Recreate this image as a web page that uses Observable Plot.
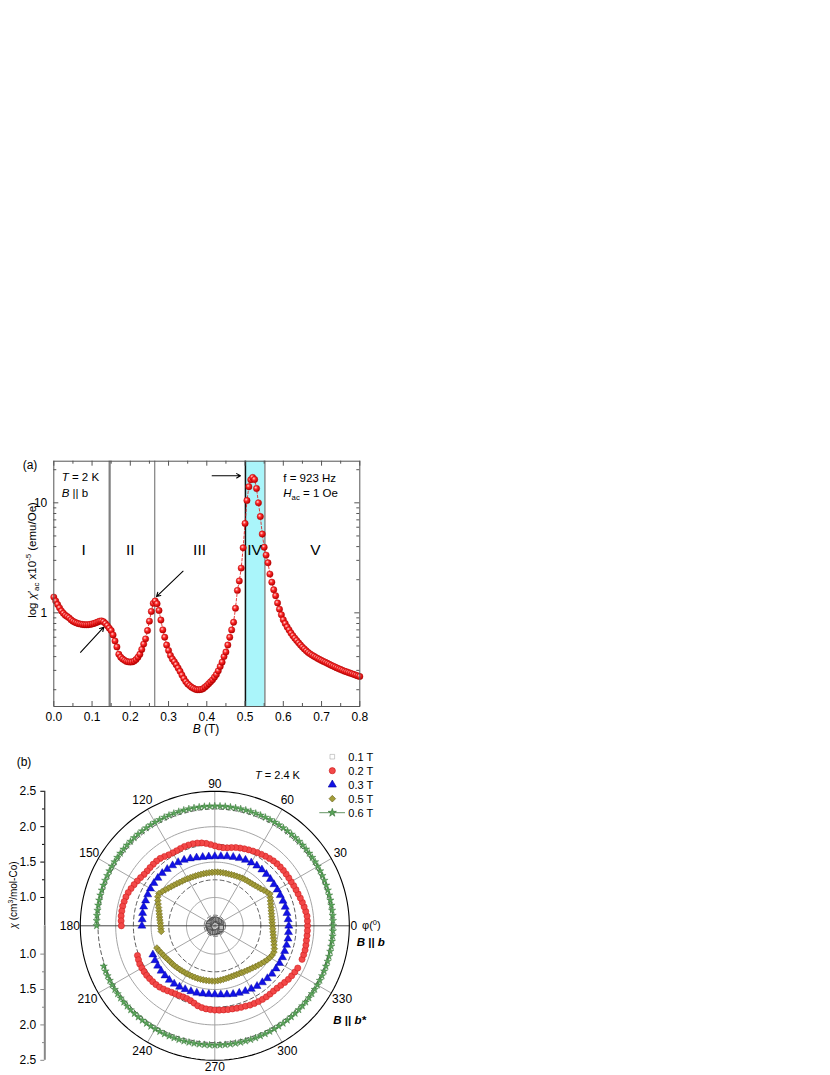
<!DOCTYPE html>
<html><head><meta charset="utf-8">
<script src="https://cdn.jsdelivr.net/npm/d3@7"></script>
<script src="https://cdn.jsdelivr.net/npm/@observablehq/plot@0.6"></script>
<style>
body{margin:0;background:#fff;font-family:"Liberation Sans",Arial,sans-serif;}
#wrap{position:relative;width:830px;height:1075px;overflow:hidden;}
</style></head><body><div id="wrap"></div>
<script>
// ---------------- Panel (a) data: [B (T), chi'_ac x1e-5 (emu/Oe)] ----------------
const chiAC = [
[0.000,1.39],[0.005,1.28],[0.010,1.19],[0.015,1.11],[0.020,1.04],[0.025,0.99],[0.030,0.95],[0.035,0.925],[0.040,0.90],[0.045,0.865],
[0.050,0.84],[0.055,0.822],[0.060,0.808],[0.065,0.797],[0.070,0.79],[0.075,0.784],[0.080,0.78],[0.085,0.779],[0.090,0.78],[0.095,0.785],
[0.100,0.792],[0.105,0.80],[0.110,0.812],[0.115,0.825],[0.120,0.84],[0.125,0.845],[0.130,0.83],[0.135,0.80],[0.140,0.765],[0.145,0.725],
[0.150,0.69],[0.155,0.63],[0.160,0.555],[0.165,0.49],[0.170,0.42],[0.175,0.395],[0.180,0.38],[0.185,0.37],[0.190,0.362],[0.195,0.358],
[0.200,0.357],[0.205,0.358],[0.210,0.364],[0.215,0.376],[0.220,0.395],[0.225,0.42],[0.230,0.465],[0.235,0.52],[0.240,0.58],[0.245,0.69],
[0.250,0.84],[0.255,1.03],[0.260,1.22],[0.265,1.28],[0.270,1.21],[0.275,1.05],[0.280,0.86],[0.285,0.70],[0.290,0.60],[0.295,0.51],
[0.300,0.455],[0.305,0.41],[0.310,0.38],[0.315,0.36],[0.320,0.338],[0.325,0.315],[0.330,0.294],[0.335,0.272],[0.340,0.253],[0.345,0.237],
[0.350,0.226],[0.355,0.218],[0.360,0.211],[0.365,0.206],[0.370,0.202],[0.375,0.200],[0.380,0.200],[0.385,0.201],[0.390,0.204],[0.395,0.211],
[0.400,0.218],[0.405,0.227],[0.410,0.236],[0.415,0.246],[0.420,0.26],[0.425,0.275],[0.430,0.297],[0.435,0.325],[0.440,0.356],[0.445,0.40],
[0.450,0.44],[0.455,0.51],[0.460,0.60],[0.465,0.70],[0.470,0.82],[0.475,1.10],[0.480,1.60],[0.485,1.95],[0.490,2.55],[0.495,3.9],
[0.500,6.5],[0.505,10.5],[0.510,14.0],[0.515,16.2],[0.520,17.0],[0.525,16.3],[0.530,13.5],[0.535,10.0],[0.540,7.5],[0.545,5.2],
[0.550,3.95],[0.555,3.35],[0.560,2.85],[0.565,2.25],[0.570,1.9],[0.575,1.62],[0.580,1.43],[0.585,1.23],[0.590,1.08],[0.595,0.96],
[0.600,0.865],[0.605,0.80],[0.610,0.745],[0.615,0.70],[0.620,0.655],[0.625,0.62],[0.630,0.588],[0.635,0.56],[0.640,0.534],[0.645,0.51],
[0.650,0.488],[0.655,0.47],[0.660,0.452],[0.665,0.437],[0.670,0.424],[0.675,0.413],[0.680,0.403],[0.685,0.394],[0.690,0.385],[0.695,0.377],
[0.700,0.369],[0.705,0.362],[0.710,0.355],[0.715,0.348],[0.720,0.341],[0.725,0.334],[0.730,0.328],[0.735,0.322],[0.740,0.316],[0.745,0.31],
[0.750,0.305],[0.755,0.30],[0.760,0.295],[0.765,0.291],[0.770,0.287],[0.775,0.283],[0.780,0.279],[0.785,0.275],[0.790,0.271],[0.795,0.267],
[0.800,0.264]
];
const xMajorTicks = [0,0.1,0.2,0.3,0.4,0.5,0.6,0.7,0.8];
const xMinorTicks = [0.05,0.15,0.25,0.35,0.45,0.55,0.65,0.75];
const yMajorTicks = [1,10];
const yMinorTicks = [0.2,0.3,0.4,0.5,0.6,0.7,0.8,0.9,2,3,4,5,6,7,8,9,20];
const phaseBoundaries = [0.146, 0.264];
const bandIV = [[0.501, 0.552]];
const phaseLabels = [["I",0.078],["II",0.2],["III",0.381],["IV",0.525],["V",0.684]];

// ---------------- Panel (b) data: [phi (deg), chi (cm3/mol-Co)] ----------------
const chi01T = [[0,0.69],[15,0.70],[30,0.695],[45,0.69],[60,0.685],[75,0.69],[90,0.695],[105,0.69],[120,0.685],[135,0.68],[150,0.685],[165,0.69],
[180,0.695],[195,0.69],[210,0.685],[225,0.69],[240,0.695],[255,0.70],[270,0.695],[285,0.69],[300,0.69],[315,0.695],[330,0.70],[345,0.695]];
const chi02T = [
[0,1.91],[3,1.91],[6,1.91],[9,1.90],[12,1.89],[15,1.88],[18,1.87],[21,1.86],[24,1.855],[27,1.85],[30,1.845],[33,1.845],[36,1.845],[39,1.845],
[42,1.843],[45,1.84],[48,1.835],[51,1.825],[54,1.815],[57,1.805],[60,1.795],[63,1.785],[66,1.775],[69,1.765],[72,1.755],[75,1.745],[78,1.73],
[81,1.715],[84,1.71],[87,1.715],[90,1.73],[93,1.75],[96,1.77],[99,1.785],[102,1.795],[105,1.80],[108,1.80],[111,1.80],[114,1.795],[117,1.79],
[120,1.79],[123,1.795],[126,1.81],[129,1.825],[132,1.83],[135,1.83],[138,1.83],[141,1.83],[144,1.835],[147,1.85],[150,1.865],[153,1.88],
[156,1.895],[159,1.91],[162,1.92],[165,1.925],[168,1.93],[171,1.93],[174,1.93],[177,1.925],[180,1.92],
[201,1.77],[204,1.78],[207,1.79],[210,1.79],[213,1.79],[216,1.79],[219,1.785],[222,1.78],[225,1.775],[228,1.765],[231,1.75],[234,1.735],
[237,1.72],[240,1.71],[243,1.705],[246,1.70],[249,1.70],[252,1.71],[255,1.73],[258,1.755],[261,1.77],[264,1.78],[267,1.785],[270,1.79],
[273,1.793],[276,1.795],[279,1.798],[282,1.80],[285,1.805],[288,1.81],[291,1.815],[294,1.825],[297,1.83],[300,1.835],[303,1.838],[306,1.84],
[309,1.84],[312,1.84],[315,1.845],[318,1.855],[321,1.87],[324,1.885],[327,1.895],[330,1.905],[333,1.915],
[339,1.92],[342,1.92],[345,1.92],[348,1.915],[351,1.91],[354,1.91],[357,1.91]];
const chi03T = [
[0,1.645],[5,1.64],[10,1.635],[15,1.63],[20,1.625],[25,1.62],[30,1.62],[35,1.62],[40,1.625],[45,1.63],[50,1.635],[55,1.635],[60,1.63],
[65,1.625],[70,1.615],[75,1.605],[80,1.595],[85,1.585],[90,1.58],[95,1.58],[100,1.585],[105,1.595],[110,1.61],[115,1.625],[120,1.635],
[125,1.64],[130,1.645],[135,1.65],[140,1.65],[145,1.65],[150,1.65],[155,1.645],[160,1.64],[165,1.64],[170,1.635],[175,1.63],[180,1.63],
[205,1.565],[210,1.575],[215,1.585],[220,1.59],[225,1.595],[230,1.60],[235,1.60],[240,1.595],[245,1.59],[250,1.585],[255,1.58],[260,1.575],
[265,1.57],[270,1.57],[275,1.575],[280,1.585],[285,1.60],[290,1.61],[295,1.62],[300,1.63],[305,1.64],[310,1.645],[315,1.65],[320,1.655],
[325,1.655],[330,1.655],[335,1.655],[340,1.65],[345,1.65],[350,1.65],[355,1.645]];
const chi05T = [
[0,1.415],[3,1.412],[6,1.412],[9,1.414],[12,1.419],[15,1.425],[18,1.435],[21,1.446],[24,1.460],[27,1.477],[30,1.498],[33,1.476],[36,1.455],
[39,1.433],[42,1.419],[45,1.405],[48,1.395],[51,1.388],[54,1.384],[57,1.380],[60,1.377],[63,1.371],[66,1.366],[69,1.363],[72,1.360],[75,1.358],
[78,1.358],[81,1.358],[84,1.358],[87,1.360],[90,1.358],[93,1.356],[96,1.354],[99,1.353],[102,1.353],[105,1.353],[108,1.354],[111,1.356],
[114,1.358],[117,1.363],[120,1.368],[123,1.375],[126,1.381],[129,1.390],[132,1.401],[135,1.414],[138,1.428],[141,1.445],[144,1.464],
[147,1.487],[150,1.511],[153,1.504],[156,1.481],[159,1.457],[162,1.435],[165,1.416],[168,1.402],[171,1.390],[174,1.380],[177,1.371],
[180,1.366],[183,1.363],[186,1.361],
[201,1.476],[204,1.462],[207,1.447],[210,1.436],[213,1.426],[216,1.416],[219,1.409],[222,1.405],[225,1.401],[228,1.395],[231,1.391],
[234,1.388],[237,1.385],[240,1.382],[243,1.381],[246,1.381],[249,1.381],[252,1.381],[255,1.381],[258,1.381],[261,1.381],[264,1.381],
[267,1.381],[270,1.381],[273,1.377],[276,1.371],[279,1.366],[282,1.361],[285,1.357],[288,1.354],[291,1.353],[294,1.354],[297,1.357],
[300,1.363],[303,1.370],[306,1.378],[309,1.388],[312,1.399],[315,1.414],[318,1.429],[321,1.446],[324,1.464],[327,1.483],[330,1.498],
[333,1.510],[336,1.514],[339,1.501],[342,1.480],[345,1.463],[348,1.447],[351,1.436],[354,1.426],[357,1.419]];
const chi06T = [
[0,2.270],[2.5,2.270],[5,2.271],[7.5,2.271],[10,2.272],[12.5,2.272],[15,2.273],[17.5,2.274],[20,2.275],[22.5,2.276],[25,2.277],[27.5,2.278],
[30,2.279],[32.5,2.280],[35,2.281],[37.5,2.282],[40,2.283],[42.5,2.284],[45,2.285],[47.5,2.286],[50,2.287],[52.5,2.287],[55,2.288],[57.5,2.288],
[60,2.289],[62.5,2.289],[65,2.290],[67.5,2.290],[70,2.290],[72.5,2.291],[75,2.291],[77.5,2.291],[80,2.291],[82.5,2.291],[85,2.291],[87.5,2.291],
[90,2.291],[92.5,2.291],[95,2.291],[97.5,2.291],[100,2.291],[102.5,2.291],[105,2.291],[107.5,2.291],[110,2.290],[112.5,2.290],[115,2.290],
[117.5,2.289],[120,2.289],[122.5,2.288],[125,2.288],[127.5,2.287],[130,2.287],[132.5,2.286],[135,2.285],[137.5,2.284],[140,2.283],[142.5,2.282],
[145,2.281],[147.5,2.280],[150,2.279],[152.5,2.278],[155,2.277],[157.5,2.276],[160,2.275],[162.5,2.274],[165,2.273],[167.5,2.272],[170,2.272],
[172.5,2.271],[175,2.271],[177.5,2.270],[180,2.270],
[200,2.270],[202.5,2.271],[205,2.272],[207.5,2.273],[210,2.274],[212.5,2.275],[215,2.276],[217.5,2.277],[220,2.278],[222.5,2.279],[225,2.280],
[227.5,2.281],[230,2.282],[232.5,2.282],[235,2.283],[237.5,2.283],[240,2.284],[242.5,2.284],[245,2.285],[247.5,2.285],[250,2.285],[252.5,2.286],
[255,2.286],[257.5,2.286],[260,2.286],[262.5,2.286],[265,2.286],[267.5,2.286],[270,2.286],[272.5,2.286],[275,2.286],[277.5,2.286],[280,2.286],
[282.5,2.286],[285,2.285],[287.5,2.285],[290,2.285],[292.5,2.284],[295,2.284],[297.5,2.283],[300,2.283],[302.5,2.282],[305,2.282],[307.5,2.281],
[310,2.280],[312.5,2.279],[315,2.278],[317.5,2.277],[320,2.276],[322.5,2.275],[325,2.274],[327.5,2.274],[330,2.273],[332.5,2.273],[335,2.272],
[337.5,2.272],[340,2.271],[342.5,2.271],[345,2.271],[347.5,2.270],[350,2.270],[352.5,2.270],[355,2.270],[357.5,2.270]];
const angleTicks = [0,30,60,90,120,150,180,210,240,270,300,330];
const radialMajor = [1.0,1.5,2.0,2.5];
const radialMinor = [1.25,1.75,2.25];
const gridSolid = [1.0,1.5,2.0];
const gridDashed = [0.75,1.25,1.75,2.25];
const radialOrigin = 0.6, radialMax = 2.5;
const legendItems = ["0.1 T","0.2 T","0.3 T","0.5 T","0.6 T"];

// ---------------- helpers ----------------
const FONT = "Liberation Sans, Arial, sans-serif";
function richText(sel, x, y, parts, {size=12, anchor="start", rotate=0, weight="normal"}={}) {
  const t = sel.append("text")
    .attr("transform", `translate(${x},${y}) rotate(${rotate})`)
    .attr("text-anchor", anchor).attr("font-size", size).attr("font-weight", weight)
    .attr("font-family", FONT).attr("fill", "#000");
  let shift = 0;
  for (const p of parts) {
    const s = p.sub ? size*0.28 : p.sup ? -size*0.38 : 0;
    const ts = t.append("tspan").text(p.t).attr("dy", s - shift);
    shift = s;
    if (p.sub || p.sup) ts.attr("font-size", size*0.68);
    if (p.i) ts.attr("font-style", "italic");
    if (p.b) ts.attr("font-weight", "bold");
  }
  return t;
}
const wrap = document.getElementById("wrap");

// ---------------- Panel (a) ----------------
const WA = 420, HA = 290, mL = 53.3, mR = 60.7, mT = 10.7, mB = 34;
const innerW = WA - mL - mR, innerH = HA - mT - mB;
const frameColor = "#555";
const plotA = Plot.plot({
  width: WA, height: HA, marginLeft: mL, marginRight: mR, marginTop: mT, marginBottom: mB,
  style: {fontFamily: FONT, fontSize: "12px", color: "#000", background: "transparent"},
  x: {domain: [0, 0.8]},
  y: {type: "log", domain: [0.1408, 23.9]},
  marks: [
    Plot.rect(bandIV, {x1: d => d[0], x2: d => d[1], fill: "#aaf5fa"}),
    Plot.ruleX(bandIV, {x: d => d[0], stroke: "#111", strokeWidth: 1.5}),
    Plot.ruleX(bandIV, {x: d => d[1], stroke: "#555", strokeWidth: 1}),
    Plot.ruleX([phaseBoundaries[0]], {x: d => d, stroke: "#808080", strokeWidth: 2.2}),
    Plot.ruleX([phaseBoundaries[1]], {x: d => d, stroke: "#666", strokeWidth: 1}),
    Plot.line(chiAC, {x: d => d[0], y: d => d[1], stroke: "#e01010", strokeWidth: 0.8, strokeDasharray: "2.5,2"}),
    Plot.dot(chiAC, {x: d => d[0], y: d => d[1], r: 3.2, fill: "url(#ball)", stroke: "#b00000", strokeWidth: 0.4}),
    Plot.text(phaseLabels, {x: d => d[1], y: () => 3.76, text: d => d[0], fontSize: 15.5, fill: "#000"}),
    Plot.arrow([0], {x1: () => 0.0698, y1: () => 0.438, x2: () => 0.1307, y2: () => 0.74, stroke: "#000", strokeWidth: 1.1, headLength: 6}),
    Plot.arrow([0], {x1: () => 0.338, y1: () => 2.39, x2: () => 0.2685, y2: () => 1.406, stroke: "#000", strokeWidth: 1.1, headLength: 6}),
    Plot.arrow([0], {x1: () => 0.414, y1: () => 17.6, x2: () => 0.488, y2: () => 17.6, stroke: "#000", strokeWidth: 1.1, headLength: 6}),
    Plot.tickX(xMajorTicks, {x: d => d, stroke: frameColor, insetTop: innerH - 5}),
    Plot.tickX(xMajorTicks, {x: d => d, stroke: frameColor, insetBottom: innerH - 5}),
    Plot.tickX(xMinorTicks, {x: d => d, stroke: frameColor, insetTop: innerH - 3}),
    Plot.tickX(xMinorTicks, {x: d => d, stroke: frameColor, insetBottom: innerH - 3}),
    Plot.tickY(yMajorTicks, {y: d => d, stroke: frameColor, insetRight: innerW - 5}),
    Plot.tickY(yMajorTicks, {y: d => d, stroke: frameColor, insetLeft: innerW - 5}),
    Plot.tickY(yMinorTicks, {y: d => d, stroke: frameColor, insetRight: innerW - 3}),
    Plot.tickY(yMinorTicks, {y: d => d, stroke: frameColor, insetLeft: innerW - 3}),
    Plot.axisX(xMajorTicks, {tickSize: 0, tickPadding: 5.5, tickFormat: d3.format(".1f"), fontSize: 12, label: null}),
    Plot.axisY(yMajorTicks, {tickSize: 0, tickPadding: 6.5, tickFormat: d => String(d), fontSize: 12, label: null}),
    Plot.frame({stroke: frameColor, strokeWidth: 1})
  ]
});
{
  const s = d3.select(plotA);
  const g = s.insert("defs", ":first-child").append("radialGradient")
    .attr("id", "ball").attr("cx", "38%").attr("cy", "35%").attr("r", "65%");
  g.append("stop").attr("offset", "0%").attr("stop-color", "#ffd6d6");
  g.append("stop").attr("offset", "40%").attr("stop-color", "#ff2b2b");
  g.append("stop").attr("offset", "100%").attr("stop-color", "#b80000");
  richText(s, 22.7, 19, [{t: "(a)"}], {size: 12});
  richText(s, 61.7, 30.7, [{t: "T", i: true}, {t: " = 2 K"}], {size: 11.5});
  richText(s, 61.7, 46.7, [{t: "B", i: true}, {t: " || b"}], {size: 11.5});
  richText(s, 283.3, 32, [{t: "f = 923 Hz"}], {size: 11.5});
  richText(s, 283.3, 47, [{t: "H", i: true}, {t: "ac", sub: true}, {t: " = 1 Oe"}], {size: 11.5});
  richText(s, 206, 282.5, [{t: "B", i: true}, {t: " (T)"}], {size: 12, anchor: "middle"});
  richText(s, 35.5, 110, [{t: "log "}, {t: "χ", i: true}, {t: "′"}, {t: "ac", sub: true}, {t: " x10"}, {t: "-5", sup: true}, {t: " (emu/Oe)"}],
    {size: 11.5, anchor: "middle", rotate: -90});
}
Object.assign(plotA.style, {position: "absolute", left: "0px", top: "450px"});
wrap.appendChild(plotA);

// ---------------- Panel (b) ----------------
const WB = 420, HB = 330;
const rad = Math.PI / 180;
const px = d => (d[1] - radialOrigin) * Math.cos(d[0] * rad);
const py = d => (d[1] - radialOrigin) * Math.sin(d[0] * rad);
const rOut = radialMax - radialOrigin;
const circlePts = vs => vs.flatMap(v => d3.range(0, 362, 2).map(a => [a, v]));
const axisXPos = -2.401;
const labelR = a => (a === 0 ? 1.963 : a % 180 === 90 ? 1.996 : (a === 210 || a === 330) ? 2.076 : 2.048);
const plotB = Plot.plot({
  width: WB, height: HB, marginLeft: 0, marginRight: 0, marginTop: 0, marginBottom: 0,
  style: {fontFamily: FONT, fontSize: "12px", color: "#000", background: "transparent"},
  x: {domain: [-214.3 / 70.8, 205.7 / 70.8], axis: null},
  y: {domain: [-149.7 / 70.8, 180.3 / 70.8], axis: null},
  marks: [
    Plot.line(circlePts(gridSolid), {x: px, y: py, z: d => d[1], stroke: "#9a9a9a", strokeWidth: 0.9}),
    Plot.line(circlePts(gridDashed), {x: px, y: py, z: d => d[1], stroke: "#333", strokeWidth: 0.8, strokeDasharray: "4,3"}),
    Plot.link(angleTicks.filter(a => a % 180 !== 0), {x1: () => 0, y1: () => 0, x2: a => rOut * Math.cos(a * rad), y2: a => rOut * Math.sin(a * rad), stroke: "#9a9a9a", strokeWidth: 0.9}),
    Plot.link([0], {x1: () => -rOut, y1: () => 0, x2: () => rOut, y2: () => 0, stroke: "#444", strokeWidth: 1}),
    Plot.line(circlePts([radialMax]), {x: px, y: py, stroke: "#000", strokeWidth: 1.1}),
    Plot.text(angleTicks, {x: a => labelR(a) * Math.cos(a * rad), y: a => labelR(a) * Math.sin(a * rad), text: a => String(a), fontSize: 12, fill: "#000"}),
    Plot.line(chi06T, {x: px, y: py, z: d => (d[0] > 190 ? "b" : "a"), stroke: "#3c7a3c", strokeWidth: 0.7}),
    Plot.dot(chi06T, {x: px, y: py, symbol: "star", r: 2.3, fill: "#5aa55a", stroke: "#2e6b2e", strokeWidth: 0.4}),
    Plot.dot(chi02T, {x: px, y: py, symbol: "circle", r: 3.1, fill: "#f24848", stroke: "#c81414", strokeWidth: 0.5}),
    Plot.dot(chi03T, {x: px, y: py, symbol: "triangle", r: 3.0, fill: "#1212e6", stroke: "#00009a", strokeWidth: 0.4}),
    Plot.dot(chi05T, {x: px, y: py, symbol: "diamond2", r: 3.0, fill: "#a39d3a", stroke: "#5f5a12", strokeWidth: 0.5}),
    Plot.dot(chi01T, {x: px, y: py, symbol: "square", r: 2.5, fill: "#bdbdbd", stroke: "#333", strokeWidth: 0.7}),
    Plot.ruleX([axisXPos], {x: d => d, y1: () => 0, y2: () => rOut, stroke: "#000", strokeWidth: 1}),
    Plot.ruleX([axisXPos], {x: d => d, y1: () => 0, y2: () => -rOut, stroke: "#888", strokeWidth: 2}),
    Plot.tickY(radialMajor, {y: v => v - radialOrigin, insetLeft: 40.3, insetRight: WB - 44.3, stroke: "#000"}),
    Plot.tickY(radialMinor, {y: v => v - radialOrigin, insetLeft: 42, insetRight: WB - 44.3, stroke: "#000"}),
    Plot.tickY(radialMajor, {y: v => radialOrigin - v, insetLeft: 40.3, insetRight: WB - 44.3, stroke: "#888"}),
    Plot.tickY(radialMinor, {y: v => radialOrigin - v, insetLeft: 42, insetRight: WB - 44.3, stroke: "#888"}),
    Plot.text(radialMajor, {x: () => axisXPos, y: v => v - radialOrigin, text: v => v.toFixed(1), textAnchor: "end", dx: -8.6, fontSize: 12, fill: "#000"}),
    Plot.text(radialMajor, {x: () => axisXPos, y: v => radialOrigin - v, text: v => v.toFixed(1), textAnchor: "end", dx: -8.6, fontSize: 12, fill: "#000"})
  ]
});
{
  const s = d3.select(plotB);
  richText(s, 16.7, 21, [{t: "(b)"}], {size: 12});
  richText(s, 255, 34, [{t: "T", i: true}, {t: " = 2.4 K"}], {size: 11});
  richText(s, 17, 150, [{t: "χ", i: true}, {t: " (cm"}, {t: "3", sup: true}, {t: "/mol-Co)"}], {size: 10, anchor: "middle", rotate: -90});
  richText(s, 362, 184, [{t: "φ("}, {t: "0", sup: true}, {t: ")"}], {size: 11});
  richText(s, 356.7, 200.7, [{t: "B", i: true}, {t: " || "}, {t: "b", i: true}], {size: 11.5, weight: "bold"});
  richText(s, 333.3, 279, [{t: "B", i: true}, {t: " || "}, {t: "b*", i: true}], {size: 11.5, weight: "bold"});
  // legend
  const rows = [11.7, 25.7, 39.7, 53.7, 67.7];
  const syms = [
    {sym: d3.symbolSquare, r: 2.6, fill: "#fff", stroke: "#aaa"},
    {sym: d3.symbolCircle, r: 3.1, fill: "#f24848", stroke: "#c81414"},
    {sym: d3.symbolTriangle, r: 3.0, fill: "#1212e6", stroke: "#00009a"},
    {sym: d3.symbolDiamond2, r: 3.0, fill: "#a39d3a", stroke: "#5f5a12"},
    {sym: d3.symbolStar, r: 2.6, fill: "#5aa55a", stroke: "#2e6b2e"}
  ];
  const lg = s.append("g");
  lg.append("line").attr("x1", 319.3).attr("x2", 345).attr("y1", rows[4]).attr("y2", rows[4]).attr("stroke", "#3c7a3c").attr("stroke-width", 0.8);
  legendItems.forEach((label, i) => {
    const sy = syms[i];
    lg.append("path").attr("d", d3.symbol(sy.sym, Math.PI * sy.r * sy.r)())
      .attr("transform", `translate(332.3,${rows[i]})`).attr("fill", sy.fill).attr("stroke", sy.stroke).attr("stroke-width", 0.6);
    lg.append("text").attr("x", 348.3).attr("y", rows[i]).attr("dy", "0.36em").attr("font-size", 11)
      .attr("text-anchor", "start").attr("font-family", FONT).attr("fill", "#000").text(label);
  });
}
Object.assign(plotB.style, {position: "absolute", left: "0px", top: "745px"});
wrap.appendChild(plotB);
</script></body></html>
